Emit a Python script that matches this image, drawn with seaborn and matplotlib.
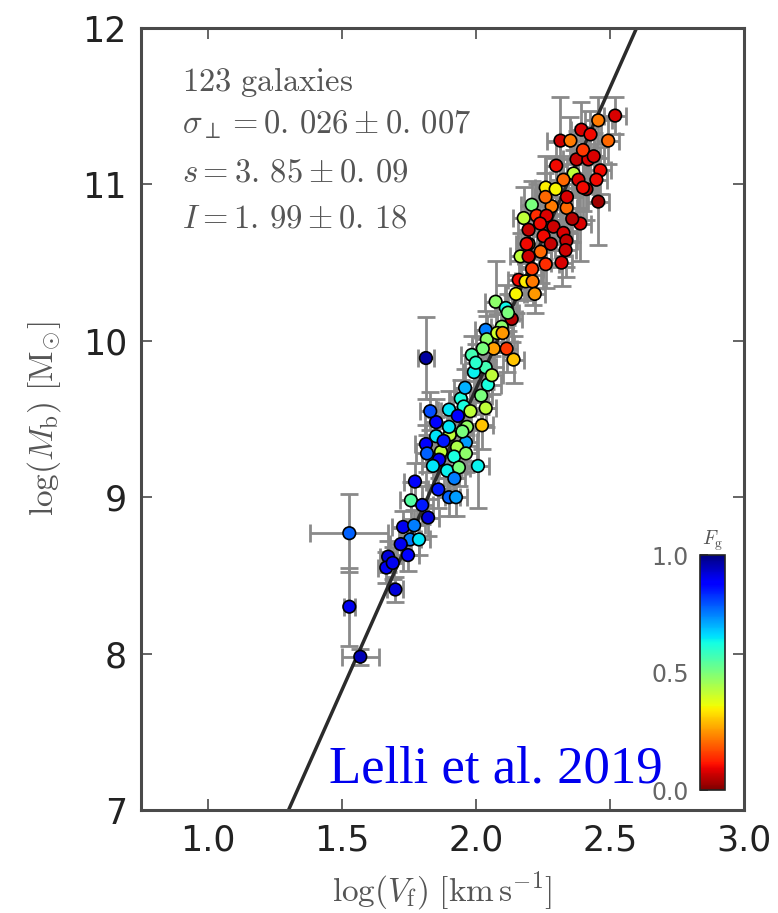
import numpy as np
import pandas as pd
import matplotlib
matplotlib.use("Agg")
import matplotlib.pyplot as plt
import seaborn as sns
from matplotlib.colors import Normalize
from matplotlib.cm import ScalarMappable

# ---------------- data ----------------
logV = [2.520, 2.457, 2.394, 2.428, 2.316, 2.353, 2.494, 2.376, 2.420, 2.465,
        2.365, 2.327, 2.383, 2.450, 2.261, 2.298, 2.413, 2.457, 2.209, 2.283,
        2.339, 2.179, 2.227, 2.264, 2.390, 2.197, 2.290, 2.327, 2.253, 2.338,
        2.197, 2.242, 2.335, 2.167, 2.197, 2.261, 2.160, 2.186, 2.212, 2.074,
        2.112, 2.134, 2.097, 2.037, 2.041, 2.067, 2.115, 2.026, 1.985, 2.141,
        2.037, 1.993, 2.045, 1.814, 1.944, 1.900, 1.955, 2.037, 1.933, 1.852,
        2.023, 1.967, 1.852, 1.903, 1.814, 1.963, 1.870, 1.930, 1.818, 1.919,
        1.963, 1.863, 1.893, 1.937, 2.008, 1.773, 1.900, 1.926, 1.758, 1.822,
        1.528, 1.729, 1.755, 1.788, 1.747, 1.673, 1.666, 1.700, 1.528, 1.569,
        2.30, 2.40, 2.34, 2.24, 2.28, 2.21, 2.36, 2.44, 2.26, 2.19,
        2.32, 2.15, 2.22, 2.08, 2.00, 1.96, 2.02, 1.90, 1.88, 1.95,
        1.84, 1.92, 1.98, 2.10, 1.86, 1.80, 1.72, 1.77, 1.69, 1.83,
        2.06, 2.12, 2.40]

logM = [11.44, 11.41, 11.35, 11.32, 11.28, 11.28, 11.28, 11.16, 11.16, 11.09,
        11.07, 11.03, 11.03, 11.03, 10.98, 10.97, 10.97, 10.89, 10.87, 10.86,
        10.85, 10.785, 10.80, 10.80, 10.75, 10.71, 10.73, 10.69, 10.67, 10.64,
        10.62, 10.57, 10.58, 10.54, 10.54, 10.49, 10.39, 10.38, 10.38, 10.25,
        10.21, 10.14, 10.09, 10.07, 10.01, 9.95, 9.95, 9.95, 9.91, 9.88,
        9.83, 9.80, 9.72, 9.89, 9.63, 9.56, 9.58, 9.57, 9.52, 9.48,
        9.46, 9.45, 9.39, 9.40, 9.34, 9.35, 9.29, 9.32, 9.28, 9.26,
        9.28, 9.24, 9.17, 9.19, 9.20, 9.10, 9.00, 9.00, 8.98, 8.87,
        8.77, 8.81, 8.73, 8.73, 8.63, 8.62, 8.55, 8.41, 8.30, 7.98,
        11.12, 11.22, 10.92, 10.75, 10.62, 10.46, 10.78, 11.18, 10.92, 10.62,
        10.50, 10.30, 10.30, 10.05, 9.86, 9.70, 9.65, 9.45, 9.36, 9.42,
        9.20, 9.12, 9.55, 10.05, 9.05, 8.95, 8.70, 8.82, 8.58, 9.55,
        9.78, 10.18, 10.98]

Fg = [0.08, 0.22, 0.08, 0.10, 0.07, 0.22, 0.20, 0.06, 0.08, 0.10,
      0.42, 0.20, 0.08, 0.10, 0.34, 0.35, 0.03, 0.03, 0.50, 0.22,
      0.20, 0.42, 0.14, 0.08, 0.08, 0.06, 0.07, 0.08, 0.10, 0.06,
      0.22, 0.20, 0.07, 0.42, 0.07, 0.14, 0.10, 0.34, 0.22, 0.48,
      0.63, 0.05, 0.48, 0.75, 0.48, 0.26, 0.15, 0.50, 0.57, 0.30,
      0.57, 0.64, 0.62, 0.97, 0.62, 0.65, 0.62, 0.42, 0.88, 0.88,
      0.30, 0.47, 0.65, 0.42, 0.88, 0.72, 0.42, 0.44, 0.78, 0.62,
      0.48, 0.90, 0.64, 0.50, 0.64, 0.88, 0.78, 0.72, 0.55, 0.92,
      0.78, 0.90, 0.75, 0.65, 0.88, 0.92, 0.90, 0.92, 0.90, 0.95,
      0.10, 0.15, 0.08, 0.10, 0.06, 0.15, 0.05, 0.08, 0.20, 0.10,
      0.08, 0.35, 0.25, 0.40, 0.60, 0.70, 0.50, 0.65, 0.85, 0.50,
      0.65, 0.75, 0.42, 0.25, 0.85, 0.85, 0.90, 0.75, 0.90, 0.80,
      0.42, 0.50, 0.10]

xerr = [0.04, 0.05, 0.04, 0.04, 0.05, 0.04, 0.04, 0.05, 0.04, 0.04,
        0.04, 0.05, 0.04, 0.04, 0.04, 0.04, 0.04, 0.04, 0.04, 0.05,
        0.04, 0.04, 0.04, 0.05, 0.04, 0.04, 0.04, 0.05, 0.04, 0.04,
        0.04, 0.04, 0.04, 0.04, 0.04, 0.05, 0.04, 0.04, 0.04, 0.04,
        0.04, 0.04, 0.04, 0.04, 0.04, 0.04, 0.04, 0.04, 0.04, 0.04,
        0.04, 0.04, 0.05, 0.03, 0.04, 0.04, 0.04, 0.04, 0.04, 0.04,
        0.04, 0.04, 0.04, 0.04, 0.04, 0.04, 0.04, 0.04, 0.04, 0.04,
        0.04, 0.04, 0.04, 0.04, 0.04, 0.04, 0.04, 0.04, 0.04, 0.04,
        0.145, 0.04, 0.04, 0.04, 0.04, 0.03, 0.03, 0.03, 0.02, 0.07,
        0.04, 0.04, 0.04, 0.04, 0.04, 0.04, 0.04, 0.04, 0.04, 0.04,
        0.04, 0.04, 0.04, 0.04, 0.04, 0.04, 0.04, 0.04, 0.04, 0.04,
        0.04, 0.04, 0.04, 0.04, 0.04, 0.04, 0.04, 0.04, 0.04, 0.04,
        0.04, 0.04, 0.04]

yerr = [0.12, 0.15, 0.18, 0.15, 0.28, 0.15, 0.15, 0.18, 0.20, 0.15,
        0.15, 0.15, 0.18, 0.15, 0.20, 0.20, 0.20, 0.28, 0.15, 0.15,
        0.15, 0.20, 0.20, 0.15, 0.24, 0.15, 0.15, 0.15, 0.15, 0.17,
        0.15, 0.20, 0.17, 0.15, 0.15, 0.15, 0.12, 0.12, 0.15, 0.26,
        0.15, 0.15, 0.15, 0.12, 0.15, 0.12, 0.15, 0.12, 0.12, 0.15,
        0.12, 0.12, 0.15, 0.26, 0.12, 0.12, 0.12, 0.12, 0.12, 0.15,
        0.15, 0.12, 0.12, 0.12, 0.12, 0.12, 0.12, 0.12, 0.12, 0.12,
        0.12, 0.12, 0.12, 0.12, 0.27, 0.12, 0.12, 0.12, 0.12, 0.12,
        0.25, 0.10, 0.10, 0.10, 0.10, 0.10, 0.10, 0.08, 0.25, 0.05,
        0.15, 0.15, 0.15, 0.15, 0.15, 0.15, 0.15, 0.15, 0.15, 0.15,
        0.15, 0.12, 0.12, 0.12, 0.12, 0.12, 0.12, 0.12, 0.12, 0.12,
        0.12, 0.12, 0.12, 0.12, 0.12, 0.12, 0.10, 0.10, 0.10, 0.12,
        0.12, 0.12, 0.15]

n_gal = 123
slope, slope_err = "3.85", "0.09"
intercept, intercept_err = "1.99", "0.18"
sigma_perp, sigma_perp_err = "0.026", "0.007"

xticks = [1.0, 1.5, 2.0, 2.5, 3.0]
yticks = [7, 8, 9, 10, 11, 12]
cbar_ticks = [0.0, 0.5, 1.0]

df = pd.DataFrame({"logV": logV, "logM": logM, "Fg": Fg,
                   "xerr": xerr, "yerr": yerr})


def spaced(num):
    # old-style mathtext look: a small gap after the decimal point
    a, b = num.split(".")
    return a + r".\," + b


# ---------------- style ----------------
sns.set_style("ticks")
plt.rcParams["font.family"] = ["DejaVu Sans"]
plt.rcParams["mathtext.fontset"] = "cm"

fig = plt.figure(figsize=(7.78, 9.13), dpi=100)
ax = fig.add_axes([0.181, 0.1128, 0.775, 0.8565])

spine_c = "#4a4a4a"
ax.errorbar(df["logV"], df["logM"], xerr=df["xerr"], yerr=df["yerr"],
            fmt="none", ecolor="#8a8a8a", elinewidth=2.0, capsize=6.5,
            capthick=2.0, zorder=1)

s_val = float(slope)
i_val = float(intercept)
xl = np.array([0.75, 3.0])
ax.plot(xl, s_val * xl + i_val, color="#2b2b2b", lw=2.5, zorder=2)

sns.scatterplot(data=df, x="logV", y="logM", hue="Fg", palette="jet_r",
                hue_norm=(0, 1), s=82, edgecolor="black", linewidth=1.2,
                legend=False, zorder=3, ax=ax)

ax.set_xlim(0.75, 3.0)
ax.set_ylim(7, 12)
ax.set_xticks(xticks)
ax.set_xticklabels([f"{t:.1f}" for t in xticks])
ax.set_yticks(yticks)
ax.set_yticklabels([str(t) for t in yticks])
ax.tick_params(direction="in", length=8, width=1.2, color=spine_c,
               top=True, right=True, labelsize=25, labelcolor="#222222",
               pad=10)
for sp in ax.spines.values():
    sp.set_color(spine_c)
    sp.set_linewidth(2.2)

ax.set_xlabel(r"$\log(V_{\rm f})\ [\rm km\,s^{-1}]$", fontsize=24,
              color="#555555", labelpad=8)
ax.set_ylabel(r"$\log(M_{\rm b})\ [\rm M_{\odot}]$", fontsize=24,
              color="#555555", labelpad=14)

txt_c = "#555555"
fs = 23.5
ax.text(0.068, 0.931, r"$\rm %d\ galaxies$" % n_gal, transform=ax.transAxes,
        fontsize=fs, color=txt_c, va="center", ha="left")
ax.text(0.068, 0.876, r"$\sigma_\perp=%s\pm%s$" % (spaced(sigma_perp), spaced(sigma_perp_err)),
        transform=ax.transAxes, fontsize=fs, color=txt_c, va="center", ha="left")
ax.text(0.068, 0.816, r"$s=%s\pm%s$" % (spaced(slope), spaced(slope_err)),
        transform=ax.transAxes, fontsize=fs, color=txt_c, va="center", ha="left")
ax.text(0.068, 0.757, r"$I=%s\pm%s$" % (spaced(intercept), spaced(intercept_err)),
        transform=ax.transAxes, fontsize=fs, color=txt_c, va="center", ha="left")

# colorbar inset
cax = fig.add_axes([0.8997, 0.1347, 0.0321, 0.2574])
sm = ScalarMappable(norm=Normalize(0, 1), cmap="jet_r")
cb = fig.colorbar(sm, cax=cax, ticks=cbar_ticks)
cb.outline.set_edgecolor("#222222")
cb.outline.set_linewidth(1.2)
cax.yaxis.set_ticks_position("left")
cax.yaxis.set_label_position("left")
cax.set_yticklabels([f"{t:.1f}" for t in cbar_ticks])
cax.tick_params(direction="in", length=6, width=1.2, color="#333333",
                labelsize=17, labelcolor="#666666", pad=8)
cax.text(0.5, 1.01, r"$F_{\rm g}$", transform=cax.transAxes, fontsize=14,
         color="#555555", ha="center", va="bottom")

fig.text(0.637, 0.1424, "Lelli et al. 2019", fontsize=38, color="#0000ee",
         family=["Liberation Serif"], ha="center", va="baseline")

fig.savefig("out.png", dpi=100)
